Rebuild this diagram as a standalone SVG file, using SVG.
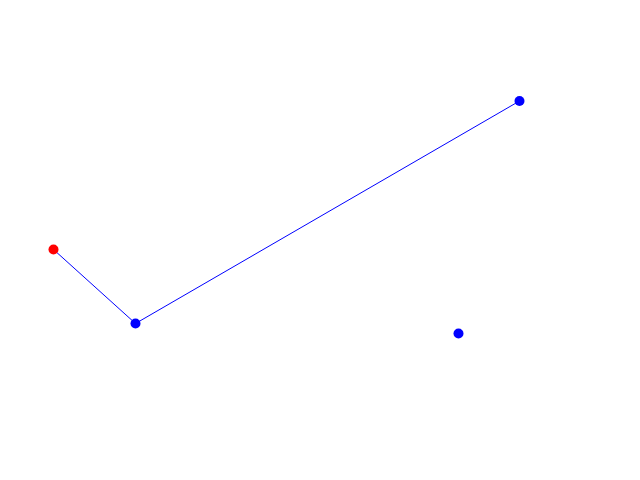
<svg xmlns="http://www.w3.org/2000/svg" width="640" height="480" viewBox="0 0 640 480">
<style>
.edge{stroke:#0000ff;stroke-width:1;fill:none}
.blue{fill:#0000ff}
.red{fill:#ff0000}
</style>
<rect width="640" height="480" fill="#ffffff"/>
<g id="connectors">
<line class="edge" x1="53.5" y1="249.5" x2="135.5" y2="323.5"/>
<line class="edge" x1="135.5" y1="323.5" x2="519.5" y2="101"/>
</g>
<g id="n0"><circle class="red" cx="53.5" cy="249.5" r="5"/></g>
<g id="n1"><circle class="blue" cx="135.5" cy="323.5" r="5"/></g>
<g id="n2"><circle class="blue" cx="519.5" cy="101" r="5"/></g>
<g id="n3"><circle class="blue" cx="458.5" cy="333.5" r="5"/></g>
</svg>
